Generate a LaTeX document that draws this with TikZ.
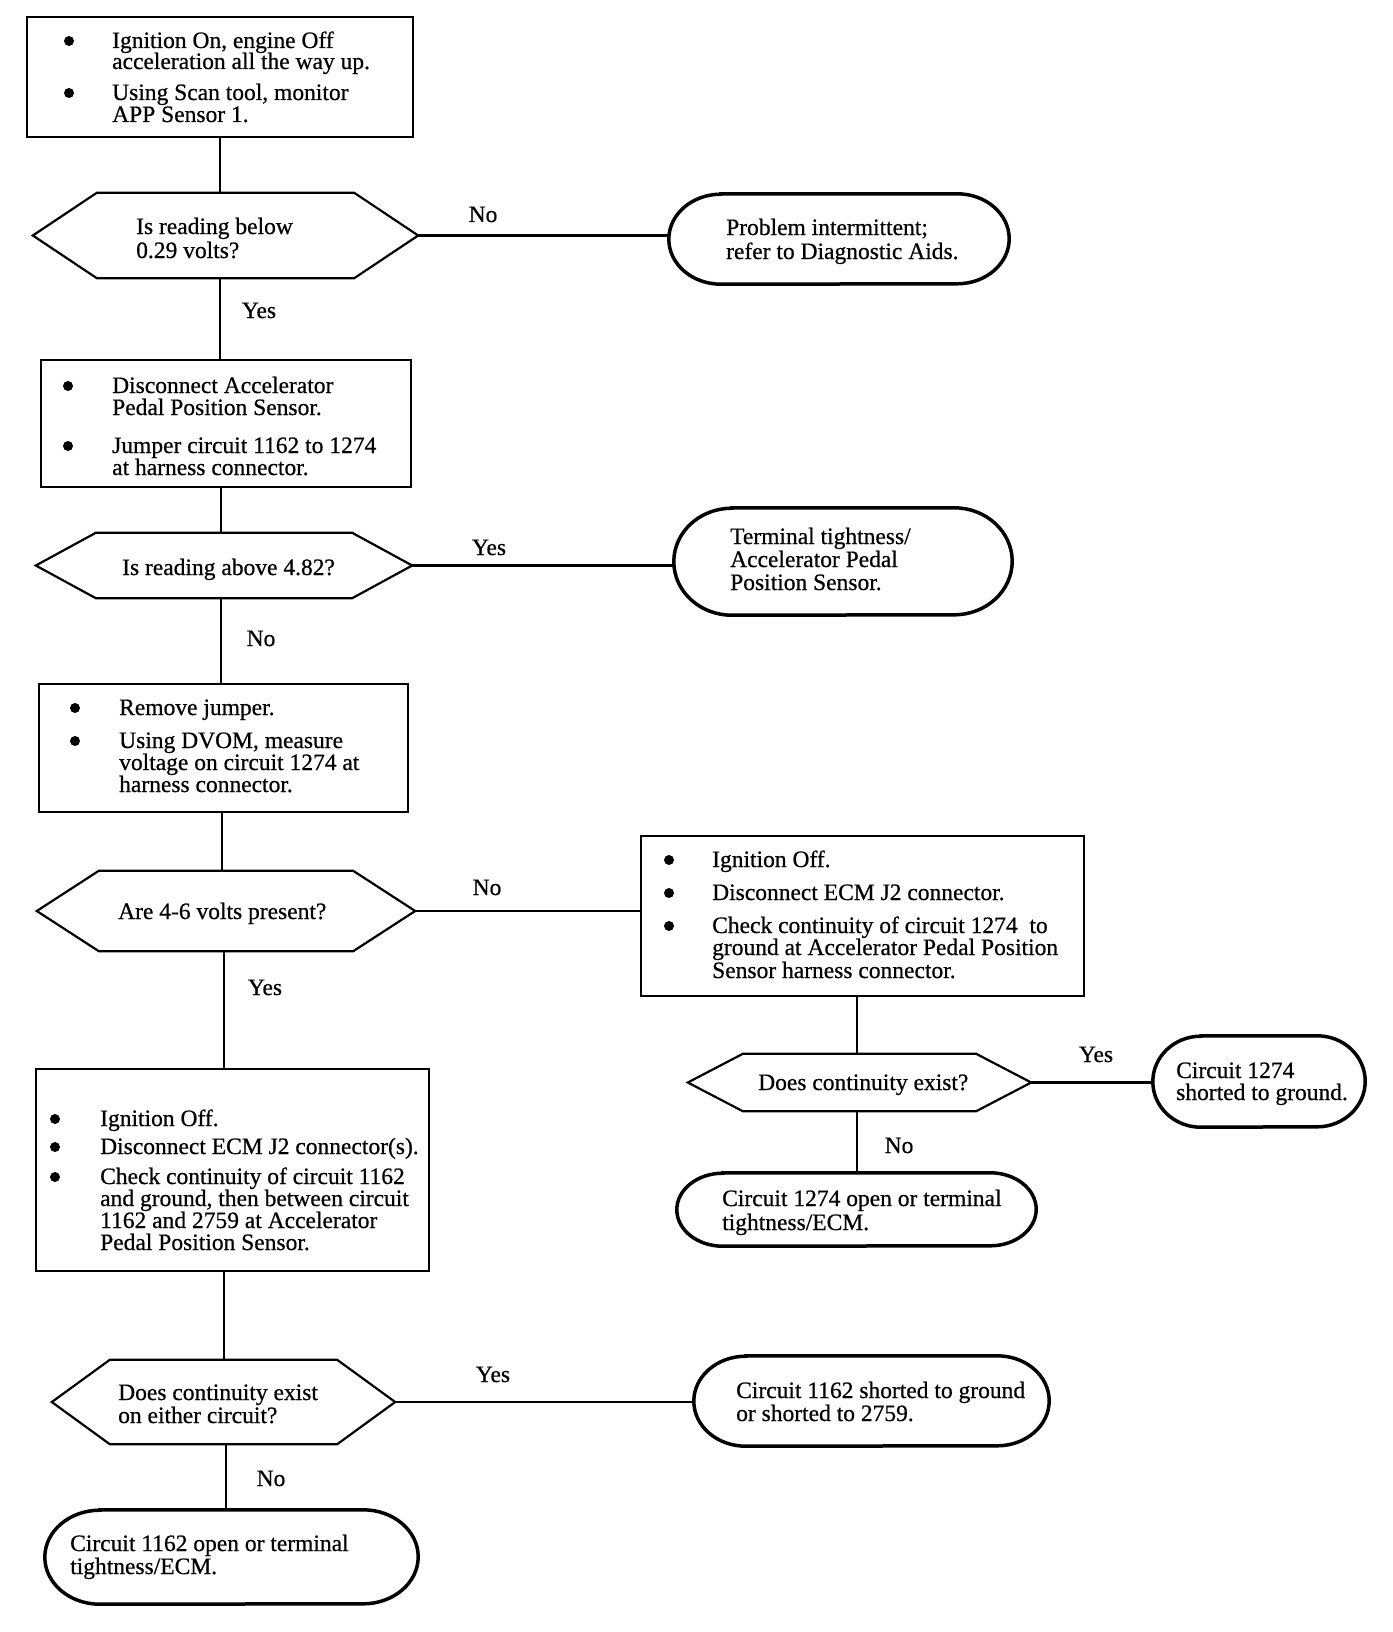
\documentclass[tikz,border=0pt]{standalone}
\usepackage{fontspec}
\setmainfont{Liberation Serif}
\newfontfamily\heavy{Liberation Serif}[FakeBold=0.6]
\newcommand\hexdraw[2]{\draw[hexline] ([xshift=#2pt]#1.north west) -- ([xshift=-#2pt]#1.north east) -- (#1.east) -- ([xshift=-#2pt]#1.south east) -- ([xshift=#2pt]#1.south west) -- (#1.west) -- cycle;}
\newcommand\ovaldraw[3]{\draw[ovalline] ([xshift=#2pt]#1.north west) -- ([xshift=-#2pt]#1.north east) arc[start angle=90, end angle=-90, x radius=#2pt, y radius=#3pt] -- ([xshift=#2pt]#1.south west) arc[start angle=270, end angle=90, x radius=#2pt, y radius=#3pt] -- cycle;}
\begin{document}
\begin{tikzpicture}[x=1pt,y=-1pt,
  box/.style={draw, line width=2.2pt, rectangle, inner sep=0pt},
  hexb/.style={rectangle, inner sep=0pt},
  hexline/.style={line width=2.2pt, line join=miter},
  oval/.style={rectangle, inner sep=0pt},
  ovalline/.style={line width=3.5pt},
  conn/.style={line width=2.2pt},
  txt/.style={anchor=base west, inner sep=0pt, font=\heavy\fontsize{23.5}{24}\selectfont},
  lab/.style={anchor=base, inner sep=0pt, font=\heavy\fontsize{23.5}{24}\selectfont},
  bul/.style={circle, fill, inner sep=0pt, minimum size=10pt}]
\fill[white] (0,0) rectangle (1392,1632);
\useasboundingbox (0,0) rectangle (1392,1632);

% ---------- shapes ----------
\node[box, minimum width=386pt, minimum height=120pt] (b1) at (220,77) {};
\node[hexb, minimum width=385pt, minimum height=85pt] (h1) at (225.5,235.5) {};
\hexdraw{h1}{64}
\node[oval, minimum width=340pt, minimum height=90pt] (o1) at (839,239) {};
\ovaldraw{o1}{52}{45}

\node[box, minimum width=370pt, minimum height=127pt] (b2) at (226,423.5) {};
\node[hexb, minimum width=376pt, minimum height=65pt] (h2) at (224,565.5) {};
\hexdraw{h2}{60}
\node[oval, minimum width=338pt, minimum height=107pt] (o2) at (843,561.5) {};
\ovaldraw{o2}{58}{53.5}

\node[box, minimum width=369pt, minimum height=128pt] (b3) at (223.5,748) {};
\node[hexb, minimum width=378pt, minimum height=80pt] (h3) at (226,911) {};
\hexdraw{h3}{62}
\node[box, minimum width=443pt, minimum height=160pt] (b5) at (862.5,916) {};
\node[hexb, minimum width=343pt, minimum height=57pt] (h4) at (859.5,1082.5) {};
\hexdraw{h4}{55}
\node[oval, minimum width=212pt, minimum height=91pt] (o3) at (1259,1081.5) {};
\ovaldraw{o3}{48}{45.5}
\node[oval, minimum width=359pt, minimum height=73pt] (o4) at (856.5,1209.5) {};
\ovaldraw{o4}{46}{36.5}

\node[box, minimum width=393pt, minimum height=202pt] (b4) at (232.5,1170) {};
\node[hexb, minimum width=343pt, minimum height=84pt] (h5) at (223.5,1402) {};
\hexdraw{h5}{58}
\node[oval, minimum width=355pt, minimum height=90pt] (o5) at (871.5,1401) {};
\ovaldraw{o5}{52}{45}
\node[oval, minimum width=373pt, minimum height=94pt] (o6) at (231.5,1557) {};
\ovaldraw{o6}{55}{47}

% ---------- trunk x positions ----------
\coordinate (x1) at (220,0);
\coordinate (x2) at (221,0);
\coordinate (x3) at (222,0);
\coordinate (x4) at (224,0);
\coordinate (x5) at (226,0);
\coordinate (x6) at (857,0);

% ---------- connectors ----------
\draw[conn] (b1.south -| x1) -- (h1.north -| x1);
\draw[conn] (h1.south -| x1) -- (b2.north -| x1);
\draw[conn] (h1.east) -- (h1.east -| o1.west);
\draw[conn] (b2.south -| x2) -- (h2.north -| x2);
\draw[conn] (h2.south -| x2) -- (b3.north -| x2);
\draw[conn] (h2.east) -- (h2.east -| o2.west);
\draw[conn] (b3.south -| x3) -- (h3.north -| x3);
\draw[conn] (h3.south -| x4) -- (b4.north -| x4);
\draw[conn] (h3.east) -- (h3.east -| b5.west);
\draw[conn] (b5.south -| x6) -- (h4.north -| x6);
\draw[conn] (h4.east) -- (h4.east -| o3.west);
\draw[conn] (h4.south -| x6) -- (o4.north -| x6);
\draw[conn] (b4.south -| x4) -- (h5.north -| x4);
\draw[conn] (h5.east) -- (h5.east -| o5.west);
\draw[conn] (h5.south -| x5) -- (o6.north -| x5);

% ---------- box 1 ----------
\node[bul] (d1a) at (69,41) {};
\node[bul] (d1b) at (69,93) {};
\node[txt] (t1a) at (112,48) {Ignition On, engine Off};
\node[txt] (t1b) at (112,69) {acceleration all the way up.};
\node[txt] (t1c) at (112,100) {Using Scan tool, monitor};
\node[txt] (t1d) at (112,122) {APP Sensor 1.};
% hex 1
\node[txt] (th1a) at (136,234) {Is reading below};
\node[txt] (th1b) at (136,258) {0.29 volts?};
\node[lab] (l1) at (483,222) {No};
\node[lab] (l2) at (259,318) {Yes};
\node[txt] (to1a) at (726,235) {Problem intermittent;};
\node[txt] (to1b) at (726,259) {refer to Diagnostic Aids.};

% ---------- box 2 ----------
\node[bul] (d2a) at (68,386) {};
\node[bul] (d2b) at (68,446) {};
\node[txt] (t2a) at (112,393) {Disconnect Accelerator};
\node[txt] (t2b) at (112,415) {Pedal Position Sensor.};
\node[txt] (t2c) at (112,453) {Jumper circuit 1162 to 1274};
\node[txt] (t2d) at (112,475) {at harness connector.};
% hex 2
\node[txt] (th2) at (122,575) {Is reading above 4.82?};
\node[lab] (l3) at (489,555) {Yes};
\node[lab] (l4) at (261,646) {No};
\node[txt] (to2a) at (730,544) {Terminal tightness/};
\node[txt] (to2b) at (730,567) {Accelerator Pedal};
\node[txt] (to2c) at (730,590) {Position Sensor.};

% ---------- box 3 ----------
\node[bul] (d3a) at (75,708) {};
\node[bul] (d3b) at (75,741) {};
\node[txt] (t3a) at (119,715) {Remove jumper.};
\node[txt] (t3b) at (119,748) {Using DVOM, measure};
\node[txt] (t3c) at (119,770) {voltage on circuit 1274 at};
\node[txt] (t3d) at (119,792) {harness connector.};
% hex 3
\node[txt] (th3) at (118,919) {Are 4-6 volts present?};
\node[lab] (l5) at (487,895) {No};
\node[lab] (l6) at (265,995) {Yes};

% ---------- box 5 ----------
\node[bul] (d5a) at (669,860) {};
\node[bul] (d5b) at (669,893) {};
\node[bul] (d5c) at (669,926) {};
\node[txt] (t5a) at (712,867) {Ignition Off.};
\node[txt] (t5b) at (712,900) {Disconnect ECM J2 connector.};
\node[txt] (t5c) at (712,933) {Check continuity of circuit 1274\ \ to};
\node[txt] (t5d) at (712,955) {ground at Accelerator Pedal Position};
\node[txt] (t5e) at (712,978) {Sensor harness connector.};
% hex 4
\node[txt] (th4) at (758,1090) {Does continuity exist?};
\node[lab] (l7) at (1096,1062) {Yes};
\node[lab] (l8) at (899,1153) {No};
\node[txt] (to3a) at (1176,1078) {Circuit 1274};
\node[txt] (to3b) at (1176,1100) {shorted to ground.};
\node[txt] (to4a) at (722,1206) {Circuit 1274 open or terminal};
\node[txt] (to4b) at (722,1230) {tightness/ECM.};

% ---------- box 4 ----------
\node[bul] (d4a) at (55,1119) {};
\node[bul] (d4b) at (55,1147) {};
\node[bul] (d4c) at (55,1177) {};
\node[txt] (t4a) at (100,1126) {Ignition Off.};
\node[txt] (t4b) at (100,1154) {Disconnect ECM J2 connector(s).};
\node[txt] (t4c) at (100,1184) {Check continuity of circuit 1162};
\node[txt] (t4d) at (100,1206) {and ground, then between circuit};
\node[txt] (t4e) at (100,1228) {1162 and 2759 at Accelerator};
\node[txt] (t4f) at (100,1250) {Pedal Position Sensor.};
% hex 5
\node[txt] (th5a) at (118,1400) {Does continuity exist};
\node[txt] (th5b) at (118,1423) {on either circuit?};
\node[lab] (l9) at (493,1382) {Yes};
\node[lab] (l10) at (271,1486) {No};
\node[txt] (to5a) at (736,1398) {Circuit 1162 shorted to ground};
\node[txt] (to5b) at (736,1421) {or shorted to 2759.};
\node[txt] (to6a) at (70,1551) {Circuit 1162 open or terminal};
\node[txt] (to6b) at (70,1574) {tightness/ECM.};
\end{tikzpicture}
\end{document}
